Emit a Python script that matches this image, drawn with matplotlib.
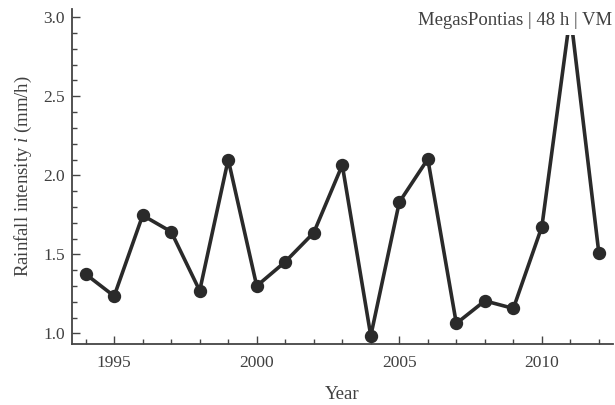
import matplotlib
matplotlib.use("Agg")
import matplotlib.pyplot as plt
from matplotlib.ticker import MultipleLocator

years = [1994, 1995, 1996, 1997, 1998, 1999, 2000, 2001, 2002, 2003,
         2004, 2005, 2006, 2007, 2008, 2009, 2010, 2011, 2012]
intensity = [1.375, 1.236, 1.747, 1.643, 1.27, 2.10, 1.30, 1.453, 1.637, 2.065,
             0.985, 1.83, 2.103, 1.063, 1.206, 1.158, 1.675, 3.02, 1.506]
xticks = [1995, 2000, 2005, 2010]
yticks = [1.0, 1.5, 2.0, 2.5, 3.0]
title = "MegasPontias | 48 h | VM"

plt.rcParams['font.family'] = ['Liberation Serif', 'DejaVu Serif']
plt.rcParams['mathtext.fontset'] = 'custom'
plt.rcParams['mathtext.it'] = 'Liberation Serif:italic'
plt.rcParams['mathtext.rm'] = 'Liberation Serif'

axcol = '#444444'
txtcol = '#404040'

fig = plt.figure(figsize=(6.15, 4.05), dpi=100)
ax = fig.add_axes([0.117, 0.151, 0.880, 0.826])
ax.plot(years, intensity, color='#2a2a2a', lw=2.6, marker='o', ms=8.6,
        solid_joinstyle='miter', zorder=3, clip_on=True)
ax.set_xlim(1993.52, 2012.5)
ax.set_ylim(0.934, 3.05)
ax.set_xticks(xticks)
ax.set_yticks(yticks)
ax.set_yticklabels([f"{v:.1f}" for v in yticks])
ax.xaxis.set_minor_locator(MultipleLocator(1))
ax.yaxis.set_minor_locator(MultipleLocator(0.1))
for s in ['top', 'right']:
    ax.spines[s].set_visible(False)
for s in ['left', 'bottom']:
    ax.spines[s].set_color(axcol)
    ax.spines[s].set_linewidth(1.3)
ax.tick_params(which='both', direction='in', color=axcol, labelcolor=txtcol,
               labelsize=12.5, width=1.0)
ax.tick_params(which='major', length=6, pad=5)
ax.tick_params(axis='x', which='major', pad=8)
ax.tick_params(which='minor', length=3.5)
ax.set_xlabel("Year", fontsize=13.5, color=txtcol, labelpad=11)
ax.set_ylabel(r"Rainfall intensity $i$ (mm/h)", fontsize=13.5, color=txtcol, labelpad=7)
ax.text(0.999, 0.992, title, transform=ax.transAxes, ha='right', va='top',
        fontsize=13.5, color=txtcol, zorder=5,
        bbox=dict(facecolor='white', edgecolor='none', pad=4.5))
fig.savefig("out.png", dpi=100)
